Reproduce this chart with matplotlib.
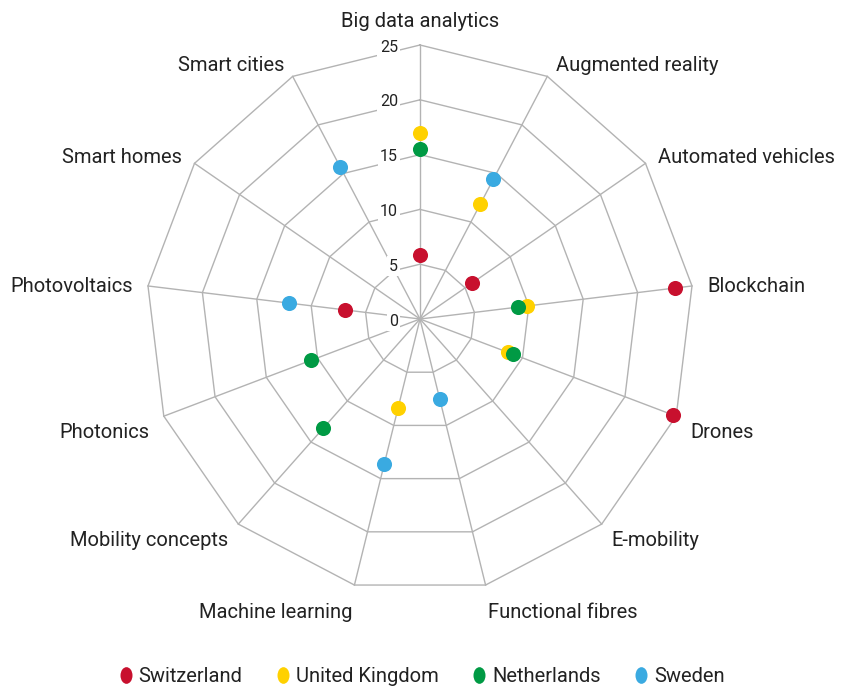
import numpy as np
import matplotlib
matplotlib.use("Agg")
import matplotlib.pyplot as plt
from matplotlib.lines import Line2D
from matplotlib.path import Path

plt.rcParams['font.family'] = ['Roboto', 'DejaVu Sans']

categories = ["Big data analytics", "Augmented reality", "Automated vehicles", "Blockchain",
              "Drones", "E-mobility", "Functional fibres", "Machine learning",
              "Mobility concepts", "Photonics", "Photovoltaics", "Smart homes", "Smart cities"]
series_names = ["Switzerland", "United Kingdom", "Netherlands", "Sweden"]
nan = np.nan
switzerland = [5.8, nan, 5.8, 23.4, 24.7, nan, nan, nan, nan, nan, 6.9, nan, nan]
united_kingdom = [17.0, 11.8, nan, 9.8, 8.6, nan, nan, 8.4, nan, nan, nan, nan, nan]
netherlands = [15.5, nan, nan, 9.0, 9.1, nan, nan, nan, 13.3, 10.6, nan, nan, nan]
sweden = [nan, 14.4, nan, nan, nan, nan, 7.5, 13.6, nan, nan, 12.0, nan, 15.7]
ticks = [0, 5, 10, 15, 20, 25]
colors = ["#C8102E", "#FFD100", "#009A44", "#3AAAE1"]

W, H = 842, 693
fig = plt.figure(figsize=(W / 100, H / 100), dpi=100)
cx, cy, R = 420, 319, 274
ax = fig.add_axes([(cx - R) / W, (H - cy - R) / H, 2 * R / W, 2 * R / H], projection='polar')
ax.set_theta_zero_location('N')
ax.set_theta_direction(-1)
ax.set_ylim(0, ticks[-1])
ax.grid(False)
ax.set_xticks([])
ax.set_yticks([])
ax.spines['polar'].set_visible(False)
ax.patch.set_visible(False)

n = len(categories)
theta = np.arange(n) * 2 * np.pi / n
grid_c = "#b3b3b3"
for r in ticks[1:]:
    tt = np.append(theta, theta[0])
    ax.plot(tt, [r] * len(tt), color=grid_c, lw=1.0, zorder=1, clip_on=False)
for t in theta:
    ax.plot([t, t], [0, ticks[-1]], color=grid_c, lw=1.0, zorder=1, clip_on=False)

txt_c = "#222222"
for r in ticks:
    ax.annotate(str(r), xy=(0, r), xytext=(-22, -2), textcoords='offset pixels',
                ha='right', va='center', fontsize=11.5, color=txt_c, zorder=3,
                bbox=dict(boxstyle='square,pad=0.15', fc='white', ec='none'))

for t, lab in zip(theta, categories):
    s, c = np.sin(t), np.cos(t)
    if abs(s) < 0.05:
        ha, va, dx, dy = 'center', 'bottom', 0, 14
    elif c < -0.9:
        ha = 'left' if s > 0 else 'right'
        va, dx, dy = 'top', 2 * np.sign(s), -18
    else:
        ha = 'left' if s > 0 else 'right'
        va = 'center'
        dx = 15 * np.sign(s) * max(abs(s), 0.55)
        dy = (14 * c if c > -0.2 else -14) - 2
    ax.annotate(lab, xy=(t, ticks[-1]), xytext=(dx, dy), textcoords='offset pixels',
                ha=ha, va=va, fontsize=14.5, color=txt_c, annotation_clip=False)

for vals, col in zip([switzerland, united_kingdom, netherlands, sweden], colors):
    ax.scatter(theta, vals, s=118, color=col, zorder=5, linewidths=0, clip_on=False)

circ = Path.unit_circle()
ell = Path(circ.vertices * np.array([0.72, 1.0]), circ.codes)
handles = [Line2D([], [], marker=ell, ls='none', color=col, markersize=12, markeredgewidth=0)
           for col in colors]
leg = fig.legend(handles, series_names, loc='center', bbox_to_anchor=(0.5, (H - 677) / H),
                 ncol=4, frameon=False, handletextpad=0.25, columnspacing=1.6,
                 handlelength=0.8, prop={'size': 14.5})
for tx in leg.get_texts():
    tx.set_color(txt_c)

fig.savefig("out.png", dpi=100, facecolor='white')
